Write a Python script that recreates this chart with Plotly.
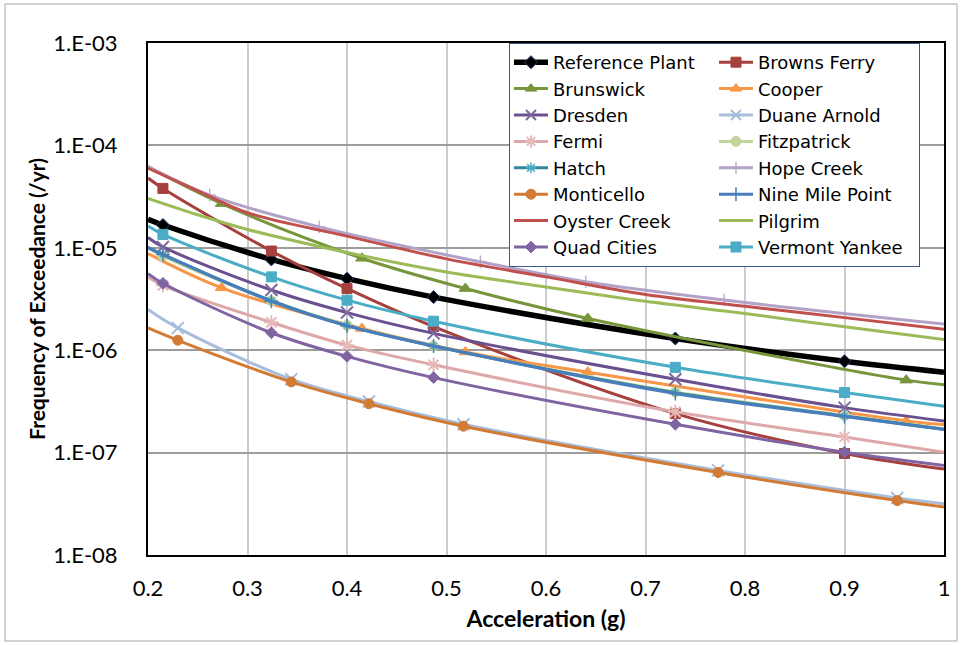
import plotly.graph_objects as go

# ---------------- data ----------------
# acceleration (g) at which each curve was read
x_a = [0.2, 0.215, 0.324, 0.4, 0.487, 0.73, 0.9, 1.0]
x_b = [0.2, 0.274, 0.415, 0.519, 0.642, 0.962, 1.0]
x_c = [0.2, 0.23, 0.344, 0.422, 0.517, 0.773, 0.953, 1.0]
x_hope = [0.2, 0.262, 0.372, 0.534, 0.64, 0.779, 1.0]
x_g = [0.2, 0.25, 0.3, 0.4, 0.5, 0.6, 0.7, 0.8, 0.9, 1.0]

# frequency of exceedance (/yr)
reference_plant = [1.9e-5, 1.67e-5, 7.7e-6, 5.0e-6, 3.3e-6, 1.3e-6, 7.8e-7, 6.1e-7]
browns_ferry = [4.8e-5, 3.8e-5, 9.3e-6, 4.0e-6, 1.7e-6, 2.4e-7, 9.8e-8, 6.9e-8]
brunswick = [6.2e-5, 2.7e-5, 7.9e-6, 4.0e-6, 2.04e-6, 5.1e-7, 4.6e-7]
cooper = [8.8e-6, 4.07e-6, 1.63e-6, 9.6e-7, 6.1e-7, 2.04e-7, 1.88e-7]
dresden = [1.26e-5, 1.02e-5, 3.87e-6, 2.33e-6, 1.46e-6, 5.2e-7, 2.75e-7, 2.04e-7]
duane_arnold = [2.5e-6, 1.65e-6, 5.2e-7, 3.15e-7, 1.89e-7, 6.7e-8, 3.6e-8, 3.17e-8]
fermi = [5.2e-6, 4.3e-6, 1.87e-6, 1.12e-6, 7.2e-7, 2.5e-7, 1.42e-7, 1.01e-7]
fitzpatrick = [1.0e-5, 8.3e-6, 3.03e-6, 1.75e-6, 1.1e-6, 3.9e-7, 2.3e-7, 1.7e-7]
hatch = [1.01e-5, 8.6e-6, 3.05e-6, 1.74e-6, 1.1e-6, 3.85e-7, 2.28e-7, 1.69e-7]
hope_creek = [6.2e-5, 3.27e-5, 1.6e-5, 7.3e-6, 4.66e-6, 3.09e-6, 1.8e-6]
monticello = [1.65e-6, 1.25e-6, 4.9e-7, 3.0e-7, 1.81e-7, 6.4e-8, 3.4e-8, 2.94e-8]
nine_mile_point = [1.0e-5, 8.6e-6, 3.0e-6, 1.73e-6, 1.1e-6, 3.78e-7, 2.25e-7, 1.68e-7]
oyster_creek = [6.0e-5, 3.6e-5, 2.2e-5, 1.3e-5, 7.8e-6, 5.2e-6, 3.5e-6, 2.68e-6, 2.08e-6, 1.6e-6]
pilgrim = [3.04e-5, 2.1e-5, 1.51e-5, 9.0e-6, 5.8e-6, 4.15e-6, 3.0e-6, 2.28e-6, 1.69e-6, 1.27e-6]
quad_cities = [5.6e-6, 4.5e-6, 1.48e-6, 8.7e-7, 5.4e-7, 1.89e-7, 1.01e-7, 7.5e-8]
vermont_yankee = [1.63e-5, 1.35e-5, 5.2e-6, 3.08e-6, 1.92e-6, 6.8e-7, 3.86e-7, 2.84e-7]

x_tick_vals = [0.2, 0.3, 0.4, 0.5, 0.6, 0.7, 0.8, 0.9, 1.0]
x_tick_text = ["0.2", "0.3", "0.4", "0.5", "0.6", "0.7", "0.8", "0.9", "1"]
y_tick_vals = [1e-8, 1e-7, 1e-6, 1e-5, 1e-4, 1e-3]
y_tick_text = ["1.E-08", "1.E-07", "1.E-06", "1.E-05", "1.E-04", "1.E-03"]

# ---------------- styles ----------------
# name, x, y, line colour, line width, symbol, marker fill, marker outline, size, outline width, legend column
series = [
    ("Reference Plant", x_a, reference_plant, "#000000", 5.5, "diamond", "#000000", "#1F3A6E", 10, 1, "c1"),
    ("Browns Ferry", x_a, browns_ferry, "#A5403D", 3, "square", "#A5403D", "#A5403D", 10, 1, "c2"),
    ("Brunswick", x_b, brunswick, "#77963C", 3, "triangle-up", "#77963C", "#77963C", 11, 1, "c1"),
    ("Cooper", x_b, cooper, "#F79646", 3, "triangle-up", "#F79646", "#F79646", 11, 1, "c2"),
    ("Dresden", x_a, dresden, "#6A5090", 3, "x-thin", "#6A5090", "#7E6AA0", 12, 2, "c1"),
    ("Duane Arnold", x_c, duane_arnold, "#A8BCDC", 3, "x-thin", "#A8BCDC", "#A8BCDC", 12, 2, "c2"),
    ("Fermi", x_a, fermi, "#DDA8A7", 3, "asterisk", "#E6B9B8", "#E6B9B8", 12, 2, "c1"),
    ("Fitzpatrick", x_a, fitzpatrick, "#C3D69B", 3, "circle", "#C3D69B", "#C3D69B", 10, 1, "c2"),
    ("Hatch", x_a, hatch, "#31859C", 3, "asterisk", "#31859C", "#4BACC6", 7, 1.5, "c1"),
    ("Hope Creek", x_hope, hope_creek, "#B3A2C7", 3, "cross-thin", "#B3A2C7", "#B3A2C7", 9, 1.2, "c2"),
    ("Monticello", x_c, monticello, "#D27B34", 3, "circle", "#D27B34", "#D27B34", 10, 1, "c1"),
    ("Nine Mile Point", x_a, nine_mile_point, "#4A7EBB", 3, "cross-thin", "#4A7EBB", "#4A7EBB", 10, 1.5, "c2"),
    ("Oyster Creek", x_g, oyster_creek, "#C0504D", 3, None, None, None, 0, 0, "c1"),
    ("Pilgrim", x_g, pilgrim, "#9BBB59", 3, None, None, None, 0, 0, "c2"),
    ("Quad Cities", x_a, quad_cities, "#8064A2", 3, "diamond", "#8064A2", "#8064A2", 9, 1, "c1"),
    ("Vermont Yankee", x_a, vermont_yankee, "#4BACC6", 3, "square", "#4BACC6", "#4BACC6", 10, 1, "c2"),
]

FONT = "Lato"
LEGEND_FONT = "DejaVu Sans"
fig = go.Figure()

for name, xs, ys, lc, lw, sym, mfill, mline, ms, mlw, grp in series:
    fig.add_trace(go.Scatter(
        x=xs, y=ys, mode="lines", line=dict(color=lc, width=lw, shape="spline", smoothing=1.0),
        showlegend=False, legendgroup=grp, hoverinfo="skip"))
    if sym is not None:
        fig.add_trace(go.Scatter(
            x=xs[1:-1], y=ys[1:-1], mode="markers",
            marker=dict(symbol=sym, size=ms, color=mfill, line=dict(color=mline, width=mlw)),
            showlegend=False, legendgroup=grp, hoverinfo="skip"))

for name, xs, ys, lc, lw, sym, mfill, mline, ms, mlw, grp in series:
    if sym is None:
        fig.add_trace(go.Scatter(x=[None], y=[None], mode="lines", name=name,
                                 line=dict(color=lc, width=lw), legendgroup=grp))
    else:
        fig.add_trace(go.Scatter(x=[None], y=[None], mode="lines+markers", name=name,
                                 line=dict(color=lc, width=lw), legendgroup=grp,
                                 marker=dict(symbol=sym, size=min(max(ms, 9), 10), color=mfill,
                                             line=dict(color=mline, width=mlw))))

fig.update_layout(
    width=962, height=645,
    margin=dict(l=148, r=18, t=43, b=90),
    paper_bgcolor="white", plot_bgcolor="white",
    font=dict(family=FONT, color="black"),
    showlegend=True,
    legend=dict(orientation="h", traceorder="grouped", x=0.4535, xanchor="left",
                y=1.0, yanchor="top", bgcolor="white", bordercolor="#3A5A8C",
                borderwidth=1, font=dict(family=LEGEND_FONT, size=18, color="black"),
                itemwidth=34, entrywidth=156, tracegroupgap=0, itemclick=False),
    xaxis=dict(range=[0.2, 1.0], tickvals=x_tick_vals, ticktext=x_tick_text,
               showgrid=True, gridcolor="#CCCCCC", gridwidth=1.5, zeroline=False,
               showline=True, linecolor="black", linewidth=2, mirror=True, ticks="",
               tickfont=dict(family=FONT, size=22, color="black"), ticklabelstandoff=13,
               title=dict(text="<b>Acceleration (g)</b>", font=dict(family=FONT, size=23, color="black"),
                          standoff=10)),
    yaxis=dict(type="log", range=[-8, -3], tickvals=y_tick_vals, ticktext=y_tick_text,
               showgrid=True, gridcolor="#9C9C9C", gridwidth=1.5, zeroline=False,
               showline=True, linecolor="black", linewidth=2, mirror=True, ticks="",
               tickfont=dict(family=FONT, size=22, color="black"), ticklabelstandoff=24,
               title=dict(text="<b>Frequency of Exceedance (/yr)</b>",
                          font=dict(family=FONT, size=21, color="black"), standoff=2)),
    shapes=[dict(type="rect", xref="paper", yref="paper",
                 x0=(5 - 148) / 796, x1=(957 - 148) / 796,
                 y0=(555 - 641) / 512, y1=(555 - 4) / 512,
                 line=dict(color="#A6A6A6", width=1), fillcolor="rgba(0,0,0,0)", layer="below")],
)

fig.write_html("out.html")
